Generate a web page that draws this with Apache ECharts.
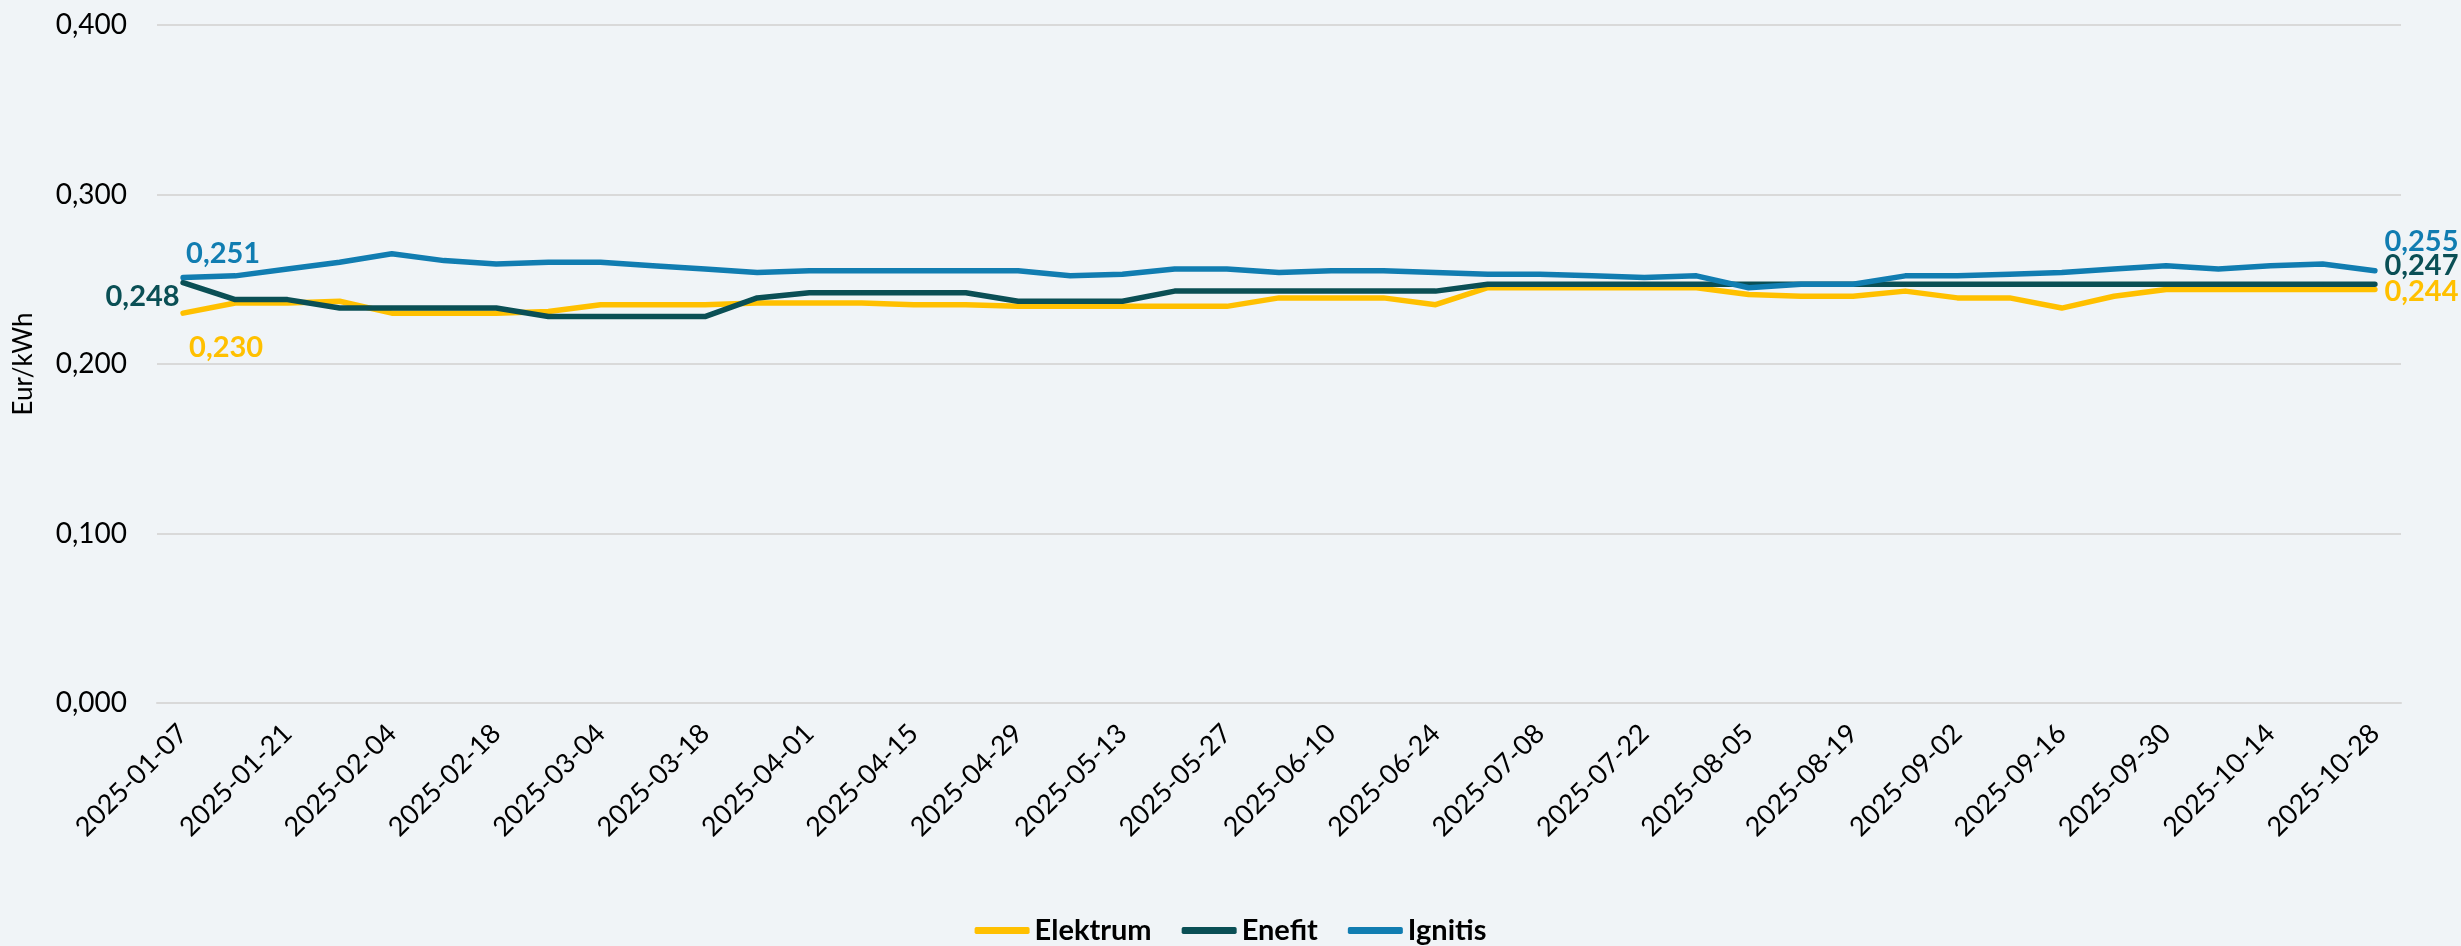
<!DOCTYPE html>
<html>
<head>
<meta charset="utf-8">
<script src="https://cdn.jsdelivr.net/npm/echarts@6/dist/echarts.min.js"></script>
<style>
html,body{margin:0;padding:0;background:#F0F4F7;}
#c{width:2461px;height:946px;}
</style>
</head>
<body>
<div id="c"></div>
<script>
const dates = ["2025-01-07","2025-01-14","2025-01-21","2025-01-28","2025-02-04","2025-02-11","2025-02-18","2025-02-25","2025-03-04","2025-03-11","2025-03-18","2025-03-25","2025-04-01","2025-04-08","2025-04-15","2025-04-22","2025-04-29","2025-05-06","2025-05-13","2025-05-20","2025-05-27","2025-06-03","2025-06-10","2025-06-17","2025-06-24","2025-07-01","2025-07-08","2025-07-15","2025-07-22","2025-07-29","2025-08-05","2025-08-12","2025-08-19","2025-08-26","2025-09-02","2025-09-09","2025-09-16","2025-09-23","2025-09-30","2025-10-07","2025-10-14","2025-10-21","2025-10-28"];

const elektrum = [0.230,0.236,0.236,0.237,0.230,0.230,0.230,0.231,0.235,0.235,0.235,0.236,0.236,0.236,0.235,0.235,0.234,0.234,0.234,0.234,0.234,0.239,0.239,0.239,0.235,0.245,0.245,0.245,0.245,0.245,0.241,0.240,0.240,0.243,0.239,0.239,0.233,0.240,0.244,0.244,0.244,0.244,0.244];

const enefit = [0.248,0.238,0.238,0.233,0.233,0.233,0.233,0.228,0.228,0.228,0.228,0.239,0.242,0.242,0.242,0.242,0.237,0.237,0.237,0.243,0.243,0.243,0.243,0.243,0.243,0.247,0.247,0.247,0.247,0.247,0.247,0.247,0.247,0.247,0.247,0.247,0.247,0.247,0.247,0.247,0.247,0.247,0.247];

const ignitis = [0.251,0.252,0.256,0.260,0.265,0.261,0.259,0.260,0.260,0.258,0.256,0.254,0.255,0.255,0.255,0.255,0.255,0.252,0.253,0.256,0.256,0.254,0.255,0.255,0.254,0.253,0.253,0.252,0.251,0.252,0.245,0.247,0.247,0.252,0.252,0.253,0.254,0.256,0.258,0.256,0.258,0.259,0.255];

const yTicks = [0, 0.1, 0.2, 0.3, 0.4];

const seriesNames = ["Elektrum","Enefit","Ignitis"];
const colors = ["#FFC000","#0A4F55","#117DB1"];

const fmt = v => v.toFixed(3).replace('.', ',');

// label placement for first and last points
const firstLabel = [
  {position:'bottom', offset:[43,14]},
  {position:'left', offset:[2,14]},
  {position:'top', offset:[40,-4]}
];
const lastLabel = [
  {position:'right', offset:[4,2]},
  {position:'right', offset:[4,-19]},
  {position:'right', offset:[4,-29]}
];

function build(values, idx){
  return values.map((v,i)=>{
    const item = {value:v};
    if(i===0 || i===values.length-1){
      const l = i===0 ? firstLabel[idx] : lastLabel[idx];
      item.label = {
        show:true, position:l.position, offset:l.offset,
        formatter: p => fmt(p.value),
        color: colors[idx], fontSize:29, fontWeight:'bold',
        fontFamily:'Lato'
      };
    }
    return item;
  });
}

const allValues = [elektrum, enefit, ignitis];

const chart = echarts.init(document.getElementById('c'));
chart.setOption({
  animation:false,
  backgroundColor:'#F0F4F7',
  textStyle:{fontFamily:'Lato'},
  grid:{left:157,right:60,top:25,bottom:243,containLabel:false},
  legend:{
    bottom:-4,
    left:'center',
    itemWidth:55,
    itemHeight:7,
    itemGap:30,
    icon:'roundRect',
    textStyle:{fontSize:29,fontWeight:'bold',color:'#000',fontFamily:'Lato'},
    data:seriesNames
  },
  xAxis:{
    type:'category',
    data:dates,
    boundaryGap:true,
    axisLine:{show:true,lineStyle:{color:'#D9D9D9',width:2}},
    axisTick:{show:false},
    axisLabel:{
      interval:1, rotate:45, fontSize:27, color:'#000', margin:26,
      fontFamily:'Lato'
    },
    splitLine:{show:false}
  },
  yAxis:{
    type:'value',
    min:yTicks[0],
    max:yTicks[yTicks.length-1],
    interval:yTicks[1]-yTicks[0],
    name:'Eur/kWh',
    nameLocation:'middle',
    nameGap:120,
    nameTextStyle:{fontSize:26,color:'#000',fontFamily:'Lato'},
    axisLine:{show:false},
    axisTick:{show:false},
    axisLabel:{formatter:v=>fmt(v),fontSize:28,color:'#000',margin:30,fontFamily:'Lato'},
    splitLine:{lineStyle:{color:'#D9D9D9',width:2}}
  },
  series: seriesNames.map((n,idx)=>({
    name:n,
    type:'line',
    data:build(allValues[idx], idx),
    color:colors[idx],
    symbol:'circle',
    symbolSize:1,
    showSymbol:true,
    itemStyle:{color:colors[idx]},
    lineStyle:{width:5.5,color:colors[idx],cap:'round',join:'round'},
    z: idx===1 ? 3 : (idx===2 ? 4 : 2),
    emphasis:{disabled:true}
  }))
});
</script>
</body>
</html>
